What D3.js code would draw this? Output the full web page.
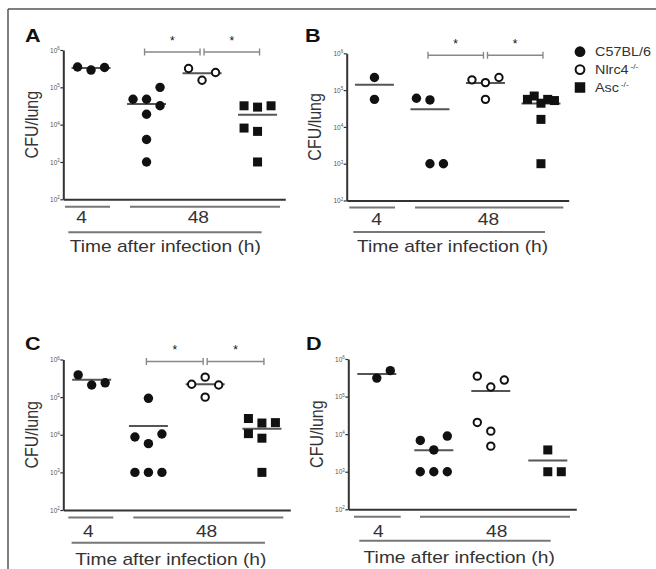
<!DOCTYPE html>
<html><head><meta charset="utf-8">
<script src="https://cdn.jsdelivr.net/npm/d3@7"></script>
<style>body{margin:0;background:#fff}svg{display:block}</style>
</head><body>
<svg id="chart" width="656" height="569"></svg>
<script>
// ---------------- DATA ----------------
const groups = ["C57BL/6 4h", "C57BL/6 48h", "Nlrc4 48h", "Asc 48h"];
const groupShape = ["filled", "filled", "open", "square"];
const tickValues = [1e2, 1e3, 1e4, 1e5, 1e6];
const tickExponents = ["2", "3", "4", "5", "6"];
const timeLabels = ["4", "48"];
const axisTitle = "Time after infection (h)";
const yTitle = "CFU/lung";
const legendLabels = ["C57BL/6", "Nlrc4", "Asc"];
const legendSup = ["", "-/-", "-/-"];
const legendShape = ["filled", "open", "square"];

// Panel A: CFU/lung per mouse
const A_c57_4h  = [2.9e5, 3.5e5, 3.4e5];
const A_c57_48h = [4.8e4, 4.8e4, 1.0e5, 3.2e4, 1.9e4, 4.0e3, 1.0e3];
const A_nlrc4   = [1.55e5, 3.2e5, 2.5e5];
const A_asc     = [2.95e4, 3.2e4, 3.2e4, 6.6e3, 8.1e3, 1.0e3];
const A_means   = [3.3e5, 3.6e4, 2.4e5, 1.85e4];
// Panel B
const B_c57_4h  = [2.2e5, 5.6e4];
const B_c57_48h = [5.4e4, 6.0e4, 1.0e3, 1.0e3];
const B_nlrc4   = [1.6e5, 1.9e5, 2.2e5, 5.6e4];
const B_asc     = [4.4e4, 6.9e4, 5.6e4, 5.6e4, 5.2e4, 1.6e4, 1.0e3];
const B_means   = [1.4e5, 3.0e4, 1.55e5, 4.3e4];
// Panel C
const C_c57_4h  = [2.1e5, 3.9e5, 2.4e5];
const C_c57_48h = [9.3e4, 5.8e3, 8.7e3, 1.05e4, 1.0e3, 1.0e3, 1.0e3];
const C_nlrc4   = [3.4e5, 2.2e5, 2.1e5, 1.0e5];
const C_asc     = [2.05e4, 2.7e4, 2.1e4, 8.1e3, 1.07e4, 1.0e3];
const C_means   = [2.9e5, 1.7e4, 2.2e5, 1.45e4];
// Panel D
const D_c57_4h  = [3.1e5, 4.9e5];
const D_c57_48h = [3.8e3, 6.8e3, 8.9e3, 1.0e3, 1.0e3, 1.0e3];
const D_nlrc4   = [1.8e5, 3.5e5, 2.75e5, 1.2e4, 2.05e4, 4.8e3];
const D_asc     = [3.8e3, 1.0e3, 1.0e3];
const D_means   = [4.0e5, 3.7e3, 1.4e5, 2.0e3];

// ---------------- LAYOUT ----------------
const panels = [
  {name:"A", values:[A_c57_4h, A_c57_48h, A_nlrc4, A_asc], means:A_means, sig:true,
   x0:63.3, w:222, top:50, bottom:199.3, start:-1, lab:[25,42],
   ann:{g4:[1.7,46.7], g48:[66.7,216.7], l4:18.4, l48:135, long:[5,198.3], title:102, gy:7.4, ly:23.4, longy:33, ty:53}},
  {name:"B", values:[B_c57_4h, B_c57_48h, B_nlrc4, B_asc], means:B_means, sig:true,
   x0:346.7, w:222, top:53.3, bottom:200.5, start:-1, lab:[305,42],
   ann:{g4:[2.6,48.3], g48:[68.3,216.6], l4:30, l48:141.7, long:[6.6,198.3], title:105.8, gy:7, ly:24, longy:31.5, ty:51.5}},
  {name:"C", values:[C_c57_4h, C_c57_48h, C_nlrc4, C_asc], means:C_means, sig:true,
   x0:63.3, w:227, top:359.5, bottom:510, start:-1, lab:[25,350],
   ann:{g4:[5,50], g48:[70,220], l4:25, l48:143.3, long:[8.3,201.7], title:107.5, gy:7.5, ly:27.4, longy:32.8, ty:54.8}},
  {name:"D", values:[D_c57_4h, D_c57_48h, D_nlrc4, D_asc], means:D_means, sig:false,
   x0:348.3, w:228, top:359, bottom:509.3, start:1, lab:[306,350],
   ann:{g4:[5.7,52.4], g48:[71.7,221.7], l4:30, l48:148.4, long:[11,202.4], title:110.9, gy:7.4, ly:27.4, longy:31.4, ty:53.9}}
];

const FONT = "'Liberation Sans', Arial, Helvetica, sans-serif";
const SX = 1.2; // horizontal stretch of the lettering in the original
const svg = d3.select("#chart").style("font-family", FONT);
svg.append("rect").attr("width",656).attr("height",569).attr("fill","#fff");

function htext(g, x, y, str, size, anchor, color, weight) {
  return g.append("text").attr("transform",`translate(${x},${y}) scale(${SX},1)`)
    .attr("text-anchor", anchor || "start").attr("font-size", size)
    .attr("fill", color || "#333").attr("font-weight", weight || "normal").text(str);
}

// frame
svg.append("line").attr("x1",8).attr("x2",656).attr("y1",9).attr("y2",9).attr("stroke","#555").attr("stroke-width",1.5);
svg.append("line").attr("x1",8).attr("x2",8).attr("y1",9).attr("y2",569).attr("stroke","#555").attr("stroke-width",1.5);

const STEP = 13.5, THRESH = 14.5;
function layout(vals, y, state) {
  const placed = [];
  vals.forEach(v => {
    const py = y(v);
    const free = s => !placed.some(p => p.slot === s && Math.abs(p.py - py) < THRESH);
    let slot = null;
    if (free(0)) slot = 0;
    for (let m = 1; slot === null && m < 8; m++) {
      const pref = -state.last;
      for (const side of [pref, -pref]) { if (free(side * m)) { slot = side * m; break; } }
    }
    if (slot !== 0) state.last = Math.sign(slot);
    placed.push({v, slot, py});
  });
  const maxS = d3.max(placed, p => Math.abs(p.slot));
  const k = maxS > 1 ? 1 / maxS : 1;
  return placed.map(p => ({v: p.v, dx: p.slot * k * STEP}));
}

function drawSymbol(g, shape, cx, cy, big) {
  const r = big ? 5.4 : 4.7;
  if (shape === "filled") {
    g.append("circle").attr("cx",cx).attr("cy",cy).attr("r",r).attr("fill","#111");
  } else if (shape === "open") {
    g.append("circle").attr("cx",cx).attr("cy",cy).attr("r",r-1).attr("fill","#fff").attr("stroke","#111").attr("stroke-width",2);
  } else {
    const s = big ? 10.5 : 9;
    g.append("rect").attr("x",cx-s/2).attr("y",cy-s/2).attr("width",s).attr("height",s).attr("fill","#111");
  }
}

panels.forEach(P => {
  const g = svg.append("g");
  const y = d3.scaleLog().domain([1e2, 1e6]).range([P.bottom, P.top]);
  const x = d3.scalePoint().domain(groups).range([P.x0, P.x0 + P.w]).padding(0.5);

  // panel letter
  htext(g, P.lab[0], P.lab[1], P.name, 18, "start", "#111", "bold");

  // y axis
  const ya = g.append("g").attr("transform",`translate(${P.x0},0)`)
    .call(d3.axisLeft(y).tickValues(tickValues).tickSize(3).tickSizeOuter(0).tickFormat(() => ""));
  ya.select(".domain").attr("stroke","#333").attr("stroke-width",2);
  ya.selectAll(".tick line").attr("stroke","#333").attr("stroke-width",1.2);
  ya.selectAll(".tick text").remove();
  ya.selectAll(".tick").each(function(d, i) {
    const t = d3.select(this).append("text").attr("x",-3.5).attr("y",2.2)
      .attr("text-anchor","end").attr("fill","#555").attr("font-size",6.5).attr("font-family",FONT);
    t.append("tspan").text("10");
    t.append("tspan").attr("dy",-2.6).attr("font-size",4.5).text(tickExponents[i]);
  });

  // x axis line
  const xa = g.append("g").attr("transform",`translate(0,${P.bottom})`)
    .call(d3.axisBottom(x).tickSize(0).tickSizeOuter(0).tickFormat(() => ""));
  xa.select(".domain").attr("stroke","#333").attr("stroke-width",2);
  xa.selectAll(".tick").remove();

  // y title (stretched horizontally on the page like the rest of the lettering)
  g.append("text").attr("transform",`translate(${P.x0 - 25.3},${(P.top + P.bottom)/2}) scale(${SX},1) rotate(-90)`)
    .attr("text-anchor","middle").attr("font-size",16).attr("fill","#333").text(yTitle);

  // group annotation
  const A = P.ann;
  const gl = (x1, x2, yy) => g.append("line").attr("x1",P.x0+x1).attr("x2",P.x0+x2)
    .attr("y1",yy).attr("y2",yy).attr("stroke","#777").attr("stroke-width",2);
  gl(A.g4[0], A.g4[1], P.bottom + A.gy);
  gl(A.g48[0], A.g48[1], P.bottom + A.gy);
  htext(g, P.x0 + A.l4, P.bottom + A.ly, timeLabels[0], 16, "middle");
  htext(g, P.x0 + A.l48, P.bottom + A.ly, timeLabels[1], 16, "middle");
  gl(A.long[0], A.long[1], P.bottom + A.longy);
  htext(g, P.x0 + A.title, P.bottom + A.ty, axisTitle, 16, "middle");

  // significance brackets
  if (P.sig) {
    const by = P.top + 2;
    const pairs = [[x(groups[1]) - 2, x(groups[2]) - 2], [x(groups[2]) + 2, x(groups[3]) + 2]];
    pairs.forEach(([a, b]) => {
      g.append("line").attr("x1",a).attr("x2",b).attr("y1",by).attr("y2",by).attr("stroke","#888").attr("stroke-width",1.4);
      [a, b].forEach(xx => g.append("line").attr("x1",xx).attr("x2",xx).attr("y1",by-3.5).attr("y2",by+3.5)
        .attr("stroke","#888").attr("stroke-width",1.4));
      g.append("text").attr("x",(a+b)/2).attr("y",P.top - 12 + 6.5).attr("text-anchor","middle")
        .attr("font-size",12).attr("fill","#111").text("*");
    });
  }

  // mean lines
  P.means.forEach((m, i) => {
    const cx = x(groups[i]);
    g.append("line").attr("x1",cx-19.5).attr("x2",cx+19.5).attr("y1",y(m)).attr("y2",y(m))
      .attr("stroke","#555").attr("stroke-width",2);
  });

  // points
  const state = {last: -P.start};
  P.values.forEach((vals, i) => {
    const cx = x(groups[i]);
    layout(vals, y, state).forEach(p => drawSymbol(g, groupShape[i], cx + p.dx, y(p.v), false));
  });
});

// legend
const lg = svg.append("g");
const ly = d3.scalePoint().domain(legendLabels).range([51.7, 87.5]);
legendLabels.forEach((lab, i) => {
  const cy = ly(lab);
  drawSymbol(lg, legendShape[i], 580, cy, true);
  const t = htext(lg, 595, cy + 4.5, null, 12, "start", "#333");
  t.append("tspan").text(lab);
  if (legendSup[i]) t.append("tspan").attr("dx",1.5).attr("dy",-5).attr("font-size",7).text(legendSup[i]);
});
</script>
</body></html>
